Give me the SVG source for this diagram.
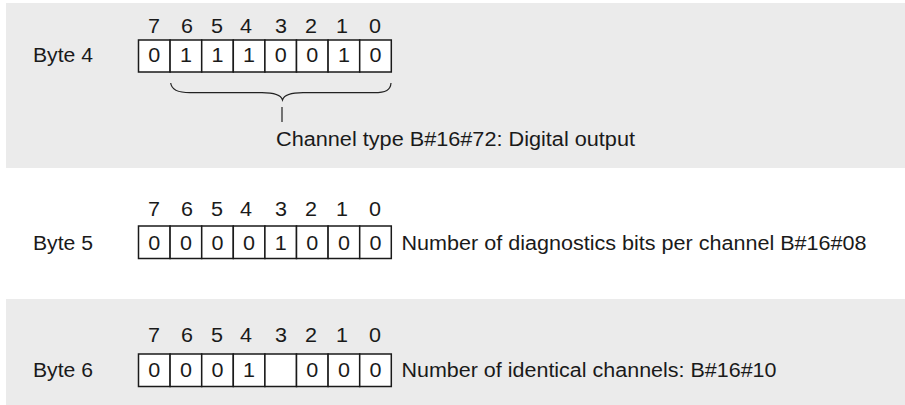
<svg xmlns="http://www.w3.org/2000/svg" width="905" height="405" viewBox="0 0 905 405">
<style>
.panel{fill:#ebebeb;stroke:none}
.cell{fill:#fff;stroke:#1a1a1a;stroke-width:1.5}
text{font-family:"Liberation Sans",Arial,sans-serif;font-size:19.5px;fill:#1a1a1a}
.c{text-anchor:middle}
.con{fill:none;stroke:#222;stroke-width:1.2}
</style>
<rect class="panel" x="6" y="3" width="899" height="165"/>
<rect class="panel" x="6" y="299" width="899" height="106"/>

<g id="byte4">
<text x="33" y="61.5" textLength="60" lengthAdjust="spacingAndGlyphs">Byte 4</text>
<text class="c" x="154" y="32.5" textLength="12" lengthAdjust="spacingAndGlyphs">7</text><text class="c" x="187" y="32.5" textLength="12" lengthAdjust="spacingAndGlyphs">6</text><text class="c" x="217" y="32.5" textLength="12" lengthAdjust="spacingAndGlyphs">5</text><text class="c" x="246" y="32.5" textLength="12" lengthAdjust="spacingAndGlyphs">4</text><text class="c" x="281" y="32.5" textLength="12" lengthAdjust="spacingAndGlyphs">3</text><text class="c" x="311" y="32.5" textLength="12" lengthAdjust="spacingAndGlyphs">2</text><text class="c" x="342" y="32.5" textLength="12" lengthAdjust="spacingAndGlyphs">1</text><text class="c" x="375" y="32.5" textLength="12" lengthAdjust="spacingAndGlyphs">0</text>
<rect class="cell" x="138.5" y="40" width="31.6" height="32"/><rect class="cell" x="170.1" y="40" width="31.6" height="32"/><rect class="cell" x="201.7" y="40" width="31.6" height="32"/><rect class="cell" x="233.3" y="40" width="31.6" height="32"/><rect class="cell" x="264.9" y="40" width="31.6" height="32"/><rect class="cell" x="296.5" y="40" width="31.6" height="32"/><rect class="cell" x="328.1" y="40" width="31.6" height="32"/><rect class="cell" x="359.7" y="40" width="31.6" height="32"/>
<text class="c" x="154.3" y="61.5" textLength="12" lengthAdjust="spacingAndGlyphs">0</text><text class="c" x="185.9" y="61.5" textLength="12" lengthAdjust="spacingAndGlyphs">1</text><text class="c" x="217.5" y="61.5" textLength="12" lengthAdjust="spacingAndGlyphs">1</text><text class="c" x="249.1" y="61.5" textLength="12" lengthAdjust="spacingAndGlyphs">1</text><text class="c" x="280.7" y="61.5" textLength="12" lengthAdjust="spacingAndGlyphs">0</text><text class="c" x="312.3" y="61.5" textLength="12" lengthAdjust="spacingAndGlyphs">0</text><text class="c" x="343.9" y="61.5" textLength="12" lengthAdjust="spacingAndGlyphs">1</text><text class="c" x="375.5" y="61.5" textLength="12" lengthAdjust="spacingAndGlyphs">0</text>
</g>

<g id="channel-type">
<text x="276" y="145.5" textLength="359" lengthAdjust="spacingAndGlyphs">Channel type B#16#72: Digital output</text>
</g>

<g id="byte5">
<text x="33" y="250" textLength="60" lengthAdjust="spacingAndGlyphs">Byte 5</text>
<text class="c" x="154" y="215.5" textLength="12" lengthAdjust="spacingAndGlyphs">7</text><text class="c" x="187" y="215.5" textLength="12" lengthAdjust="spacingAndGlyphs">6</text><text class="c" x="217" y="215.5" textLength="12" lengthAdjust="spacingAndGlyphs">5</text><text class="c" x="246" y="215.5" textLength="12" lengthAdjust="spacingAndGlyphs">4</text><text class="c" x="281" y="215.5" textLength="12" lengthAdjust="spacingAndGlyphs">3</text><text class="c" x="311" y="215.5" textLength="12" lengthAdjust="spacingAndGlyphs">2</text><text class="c" x="342" y="215.5" textLength="12" lengthAdjust="spacingAndGlyphs">1</text><text class="c" x="375" y="215.5" textLength="12" lengthAdjust="spacingAndGlyphs">0</text>
<rect class="cell" x="138.5" y="226" width="31.6" height="32.5"/><rect class="cell" x="170.1" y="226" width="31.6" height="32.5"/><rect class="cell" x="201.7" y="226" width="31.6" height="32.5"/><rect class="cell" x="233.3" y="226" width="31.6" height="32.5"/><rect class="cell" x="264.9" y="226" width="31.6" height="32.5"/><rect class="cell" x="296.5" y="226" width="31.6" height="32.5"/><rect class="cell" x="328.1" y="226" width="31.6" height="32.5"/><rect class="cell" x="359.7" y="226" width="31.6" height="32.5"/>
<text class="c" x="154.3" y="250" textLength="12" lengthAdjust="spacingAndGlyphs">0</text><text class="c" x="185.9" y="250" textLength="12" lengthAdjust="spacingAndGlyphs">0</text><text class="c" x="217.5" y="250" textLength="12" lengthAdjust="spacingAndGlyphs">0</text><text class="c" x="249.1" y="250" textLength="12" lengthAdjust="spacingAndGlyphs">0</text><text class="c" x="280.7" y="250" textLength="12" lengthAdjust="spacingAndGlyphs">1</text><text class="c" x="312.3" y="250" textLength="12" lengthAdjust="spacingAndGlyphs">0</text><text class="c" x="343.9" y="250" textLength="12" lengthAdjust="spacingAndGlyphs">0</text><text class="c" x="375.5" y="250" textLength="12" lengthAdjust="spacingAndGlyphs">0</text>
<text x="401.5" y="250" textLength="465" lengthAdjust="spacingAndGlyphs">Number of diagnostics bits per channel B#16#08</text>
</g>

<g id="byte6">
<text x="33" y="376.5" textLength="60" lengthAdjust="spacingAndGlyphs">Byte 6</text>
<text class="c" x="154" y="341.5" textLength="12" lengthAdjust="spacingAndGlyphs">7</text><text class="c" x="187" y="341.5" textLength="12" lengthAdjust="spacingAndGlyphs">6</text><text class="c" x="217" y="341.5" textLength="12" lengthAdjust="spacingAndGlyphs">5</text><text class="c" x="246" y="341.5" textLength="12" lengthAdjust="spacingAndGlyphs">4</text><text class="c" x="281" y="341.5" textLength="12" lengthAdjust="spacingAndGlyphs">3</text><text class="c" x="311" y="341.5" textLength="12" lengthAdjust="spacingAndGlyphs">2</text><text class="c" x="342" y="341.5" textLength="12" lengthAdjust="spacingAndGlyphs">1</text><text class="c" x="375" y="341.5" textLength="12" lengthAdjust="spacingAndGlyphs">0</text>
<rect class="cell" x="138.5" y="354" width="31.6" height="32.5"/><rect class="cell" x="170.1" y="354" width="31.6" height="32.5"/><rect class="cell" x="201.7" y="354" width="31.6" height="32.5"/><rect class="cell" x="233.3" y="354" width="31.6" height="32.5"/><rect class="cell" x="264.9" y="354" width="31.6" height="32.5"/><rect class="cell" x="296.5" y="354" width="31.6" height="32.5"/><rect class="cell" x="328.1" y="354" width="31.6" height="32.5"/><rect class="cell" x="359.7" y="354" width="31.6" height="32.5"/>
<text class="c" x="154.3" y="376.5" textLength="12" lengthAdjust="spacingAndGlyphs">0</text><text class="c" x="185.9" y="376.5" textLength="12" lengthAdjust="spacingAndGlyphs">0</text><text class="c" x="217.5" y="376.5" textLength="12" lengthAdjust="spacingAndGlyphs">0</text><text class="c" x="249.1" y="376.5" textLength="12" lengthAdjust="spacingAndGlyphs">1</text><text class="c" x="312.3" y="376.5" textLength="12" lengthAdjust="spacingAndGlyphs">0</text><text class="c" x="343.9" y="376.5" textLength="12" lengthAdjust="spacingAndGlyphs">0</text><text class="c" x="375.5" y="376.5" textLength="12" lengthAdjust="spacingAndGlyphs">0</text>
<text x="401.5" y="376.5" textLength="375" lengthAdjust="spacingAndGlyphs">Number of identical channels: B#16#10</text>
</g>

<g id="connectors">
<path class="con" d="M170.7,83 C171.5,90 178,92.7 190,92.7 L262,92.7 C274,92.7 281,95 282.5,100 C284,95 291,92.7 303,92.7 L374,92.7 C386,92.7 390.5,90 391,83"/>
<line class="con" x1="282" y1="107" x2="282" y2="122"/>
</g>
</svg>
